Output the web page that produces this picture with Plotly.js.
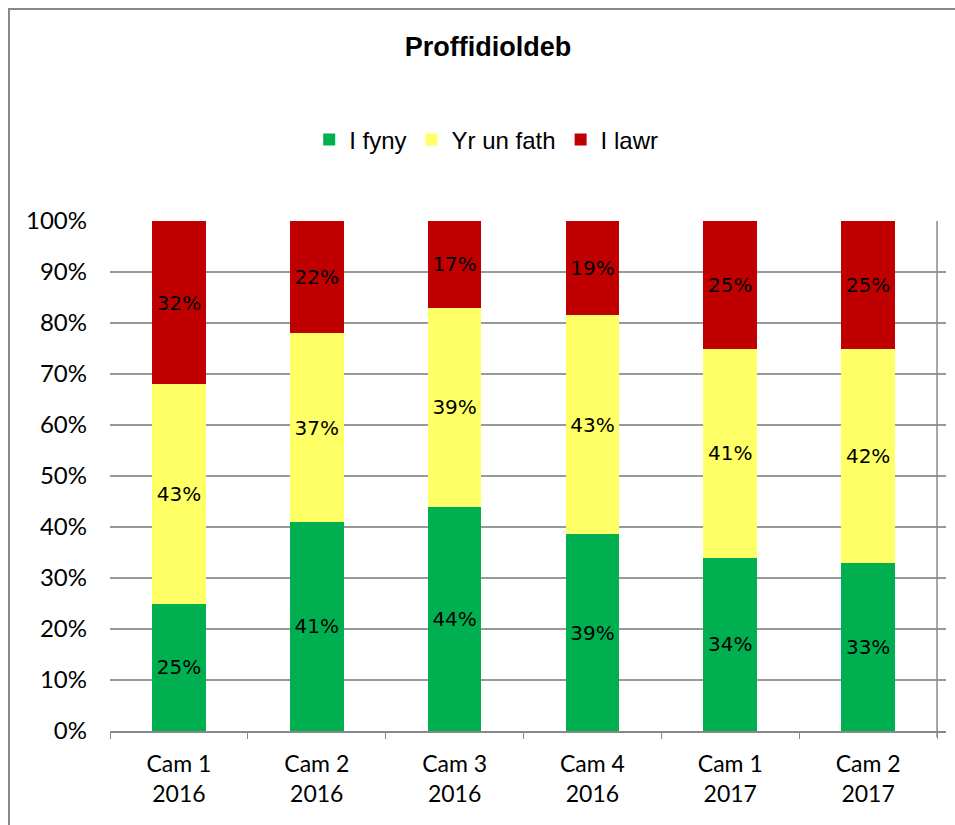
<!DOCTYPE html>
<html><head><meta charset="utf-8">
<script src="https://cdn.plot.ly/plotly-3.0.1.min.js"></script>
<style>html,body{margin:0;padding:0;background:#fff;}</style>
</head><body>
<div id="chart" style="width:955px;height:825px;"></div>
<script>
const categories = ['Cam 1<br>2016','Cam 2<br>2016','Cam 3<br>2016','Cam 4<br>2016','Cam 1<br>2017','Cam 2<br>2017'];
const ifyny = [25, 41, 44, 38.6, 34, 33];
const yrUnFath = [43, 37, 39, 42.9, 41, 42];
const ilawr = [32, 22, 17, 18.5, 25, 25];
const seriesNames = ['I fyny', 'Yr un fath', 'I lawr'];
const colors = ['#00b050', '#ffff66', '#c00000'];

const labelFont = {family: 'DejaVu Sans, Verdana, sans-serif', size: 20, color: '#000'};
function mk(vals, i) {
  return {
    type: 'bar', x: categories, y: vals, name: seriesNames[i],
    marker: {color: colors[i], line: {width: 0}},
    width: 0.39,
    texttemplate: '%{y:.0f}%', textposition: 'inside', insidetextanchor: 'middle',
    textfont: labelFont, textangle: 0, constraintext: 'none',
    hoverinfo: 'skip'
  };
}
const data = [mk(ifyny,0), mk(yrUnFath,1), mk(ilawr,2)];

const layout = {
  width: 955, height: 825,
  margin: {l: 110, r: 9, t: 221, b: 94},
  paper_bgcolor: '#fff', plot_bgcolor: '#fff',
  barmode: 'stack',
  showlegend: true,
  title: {text: '<b>Proffidioldeb</b>', x: 0.511, xanchor: 'center', y: 0.944, yanchor: 'middle', yref: 'container',
          font: {family: 'Liberation Sans, Arial, sans-serif', size: 27, color: '#000'}},
  legend: {orientation: 'h', x: 0.45, xanchor: 'center', y: 1.159, yanchor: 'middle',
           font: {family: 'Liberation Sans, Arial, sans-serif', size: 24, color: '#000'},
           itemwidth: 30, tracegroupgap: 0, traceorder: 'normal'},
  xaxis: {
    type: 'category', range: [-0.5, 5.565], tickson: 'boundaries', ticks: 'outside', ticklen: 6,
    tickcolor: '#888', showline: true, linecolor: '#888', linewidth: 1.5, showgrid: false,
    tickfont: {family: 'Lato, Carlito, sans-serif', size: 23, color: '#000'},
    ticklabelstandoff: 12, fixedrange: true
  },
  yaxis: {
    range: [0, 100], tickvals: [0,10,20,30,40,50,60,70,80,90,100],
    ticktext: ['0%','10%','20%','30%','40%','50%','60%','70%','80%','90%','100%'],
    showgrid: true, gridcolor: '#999', gridwidth: 1.3, showline: false, zeroline: false,
    ticks: '', tickfont: {family: 'Lato, Carlito, sans-serif', size: 24, color: '#000'},
    ticklabelstandoff: 22, fixedrange: true
  },
  shapes: [
    {type: 'line', xref: 'x', yref: 'paper', x0: 5.5, x1: 5.5, y0: -0.012, y1: 1, line: {color: '#888', width: 1.5}},
    {type: 'rect', xref: 'paper', yref: 'paper', x0: -0.1208, x1: 1.02, y0: -0.2, y1: 1.4157,
     line: {color: '#888', width: 2}, fillcolor: 'rgba(0,0,0,0)', layer: 'below'}
  ]
};
Plotly.newPlot('chart', data, layout, {displayModeBar: false, staticPlot: true});
</script>
</body></html>
